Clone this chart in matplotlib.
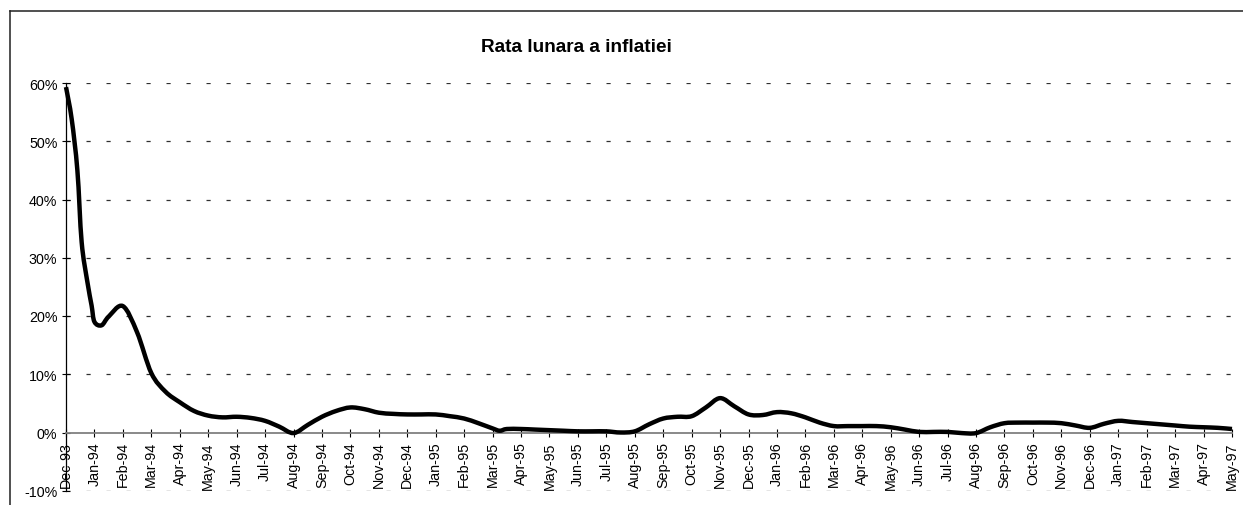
import matplotlib
matplotlib.use("Agg")
import numpy as np
import matplotlib.pyplot as plt
from matplotlib.lines import Line2D
from matplotlib.path import Path
from matplotlib.patches import PathPatch
from matplotlib.ticker import FuncFormatter

# ---- data ----
month_labels = ["Dec-93",
    "Jan-94", "Feb-94", "Mar-94", "Apr-94", "May-94", "Jun-94", "Jul-94", "Aug-94",
    "Sep-94", "Oct-94", "Nov-94", "Dec-94",
    "Jan-95", "Feb-95", "Mar-95", "Apr-95", "May-95", "Jun-95", "Jul-95", "Aug-95",
    "Sep-95", "Oct-95", "Nov-95", "Dec-95",
    "Jan-96", "Feb-96", "Mar-96", "Apr-96", "May-96", "Jun-96", "Jul-96", "Aug-96",
    "Sep-96", "Oct-96", "Nov-96", "Dec-96",
    "Jan-97", "Feb-97", "Mar-97", "Apr-97", "May-97"]

# time in months since Dec-93 (readings taken about every half month)
obs_time = [0, 0.2, 0.4, 0.55, 0.75, 0.9, 1, 1.25, 1.5, 2, 2.5, 3, 3.5, 4, 4.5, 5, 5.5, 6,
            6.5, 7, 7.5, 8, 8.5, 9, 9.5, 10, 10.5, 11, 11.5, 12, 12.5, 13, 13.5, 14, 14.5,
            15, 15.25, 15.5, 16, 16.5, 17, 17.5, 18, 18.5, 19, 19.5, 20, 20.5, 21, 21.5,
            22, 22.5, 23, 23.5, 24, 24.5, 25, 25.5, 26, 26.5, 27, 27.5, 28, 28.5, 29,
            29.5, 30, 30.5, 31, 31.5, 32, 32.5, 33, 33.5, 34, 34.5, 35, 35.5, 36, 36.5,
            37, 37.5, 38, 38.5, 39, 39.5, 40, 40.5, 41]
# monthly inflation rate, %
rate = [59.3, 53.8, 45.0, 32.7, 25.9, 21.8, 19.0, 18.4, 19.9, 21.7, 17.2, 10.2, 7.0, 5.2,
        3.7, 2.9, 2.6, 2.7, 2.5, 2.0, 1.0, -0.1, 1.3, 2.7, 3.7, 4.3, 4.0, 3.4, 3.2, 3.1,
        3.1, 3.1, 2.8, 2.4, 1.6, 0.7, 0.3, 0.6, 0.6, 0.5, 0.4, 0.3, 0.2, 0.2, 0.2, 0.0,
        0.2, 1.4, 2.4, 2.7, 2.8, 4.3, 5.9, 4.5, 3.1, 3.0, 3.5, 3.3, 2.6, 1.7, 1.1, 1.1,
        1.1, 1.1, 0.9, 0.5, 0.1, 0.1, 0.1, -0.1, -0.1, 0.9, 1.6, 1.7, 1.7, 1.7, 1.6, 1.2,
        0.8, 1.5, 2.0, 1.8, 1.6, 1.4, 1.2, 1.0, 0.9, 0.8, 0.6]

y_ticks = [-10, 0, 10, 20, 30, 40, 50, 60]

title = "Rata lunara a inflatiei"

# ---- figure ----
plt.rcParams["font.family"] = ["Liberation Sans", "DejaVu Sans"]
plt.rcParams["lines.scale_dashes"] = False

W, H = 1243, 506
fig = plt.figure(figsize=(W / 100, H / 100), dpi=100)
fig.patch.set_facecolor("white")

# chart-area border (left and top visible)
fig.add_artist(Line2D([10 / W, 10 / W], [0, 1 - 11.5 / H], transform=fig.transFigure,
                      color="#202020", lw=1.1))
fig.add_artist(Line2D([10 / W, 1], [1 - 11.5 / H, 1 - 11.5 / H], transform=fig.transFigure,
                      color="#202020", lw=1.1))

left, right = 66 / W, 1232 / W
bottom, top = 1 - 491.75 / H, 1 - 84 / H
ax = fig.add_axes([left, bottom, right - left, top - bottom])

# smoothed line (Excel-style Bezier through the observations)
pts = np.column_stack([obs_time, rate])
n = len(pts)
verts = [pts[0]]
codes = [Path.MOVETO]
for i in range(n - 1):
    p0 = pts[i - 1] if i > 0 else pts[i]
    p1 = pts[i]
    p2 = pts[i + 1]
    p3 = pts[i + 2] if i + 2 < n else pts[i + 1]
    c1 = p1 + (p2 - p0) / 6.0
    c2 = p2 - (p3 - p1) / 6.0
    verts += [c1, c2, p2]
    codes += [Path.CURVE4] * 3
ax.add_patch(PathPatch(Path(verts, codes), facecolor="none", edgecolor="black",
                       lw=3.2, joinstyle="round", capstyle="butt", zorder=5,
                       clip_on=False))

ax.set_xlim(0, len(month_labels) - 1)
ax.set_ylim(-10, 60)

ax.tick_params(axis="both", direction="inout", length=5.5, width=0.8, color="black",
               labelsize=10.3, labelcolor="black")
ax.tick_params(axis="x", pad=3.5, labelrotation=90)
ax.tick_params(axis="y", pad=3.5)

ax.set_yticks(y_ticks)
ax.yaxis.set_major_formatter(FuncFormatter(lambda v, p: f"{int(v)}%"))
ax.set_xticks(range(len(month_labels)))
ax.set_xticklabels(month_labels)
for lab in ax.get_xticklabels():
    lab.set_rotation(90)
    lab.set_va("top")
    lab.set_ha("center")

for s in ("top", "right"):
    ax.spines[s].set_visible(False)
ax.spines["left"].set_color("black")
ax.spines["left"].set_linewidth(0.9)
ax.spines["bottom"].set_position(("data", 0))
ax.spines["bottom"].set_color("#808080")
ax.spines["bottom"].set_linewidth(1.3)
ax.spines["bottom"].set_zorder(4)

for v in y_ticks:
    if v == 0:
        continue
    ax.axhline(v, color="#303030", lw=0.9, dashes=(3.0, 11.4), zorder=1)

ax.set_facecolor("none")

fig.text(576 / W, 1 - 48 / H, title, ha="center", va="center", fontsize=13.7,
         fontweight="bold", color="black")

fig.savefig("out.png", dpi=100)
